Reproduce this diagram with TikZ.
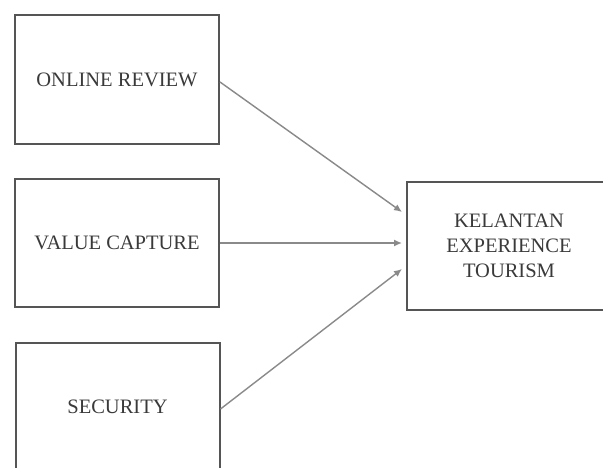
\documentclass[tikz,border=0pt]{standalone}
\usepackage{fontspec}
\setmainfont{Liberation Serif}
\usetikzlibrary{arrows.meta}
\definecolor{boxcol}{HTML}{555555}
\definecolor{arrcol}{HTML}{8A8A8A}
\definecolor{txtcol}{HTML}{3A3A3A}
\tikzset{
  varbox/.style={draw=boxcol, line width=2pt, minimum width=204pt, inner sep=0pt,
    text=txtcol, font=\fontsize{20.5}{25}\selectfont, align=center},
  conn/.style={draw=arrcol, line width=1.4pt, -{Latex[length=8pt,width=7pt]}}
}
\begin{document}
\begin{tikzpicture}[x=1pt,y=-1pt]
\useasboundingbox (0,0) rectangle (603,468);
\clip (0,0) rectangle (603,468);
\fill[white] (0,0) rectangle (603,468);
\node[varbox, minimum height=129pt] (b1) at (117,79.5) {ONLINE REVIEW};
\node[varbox, minimum height=127pt] (b2) at (117,243) {VALUE CAPTURE};
\node[varbox, minimum height=128pt] (b3) at (117.5,407) {SECURITY};
\node[varbox, minimum height=128pt] (r) at (509,246) {KELANTAN\\EXPERIENCE\\TOURISM};
\coordinate (t1) at (402,212);
\coordinate (t2) at (402,243);
\coordinate (t3) at (402,269);
\draw[conn] ([yshift=-2.5pt]b1.east) -- (t1);
\draw[conn] (b2.east) -- (t2);
\draw[conn] ([yshift=-2pt]b3.east) -- (t3);
\end{tikzpicture}
\end{document}
